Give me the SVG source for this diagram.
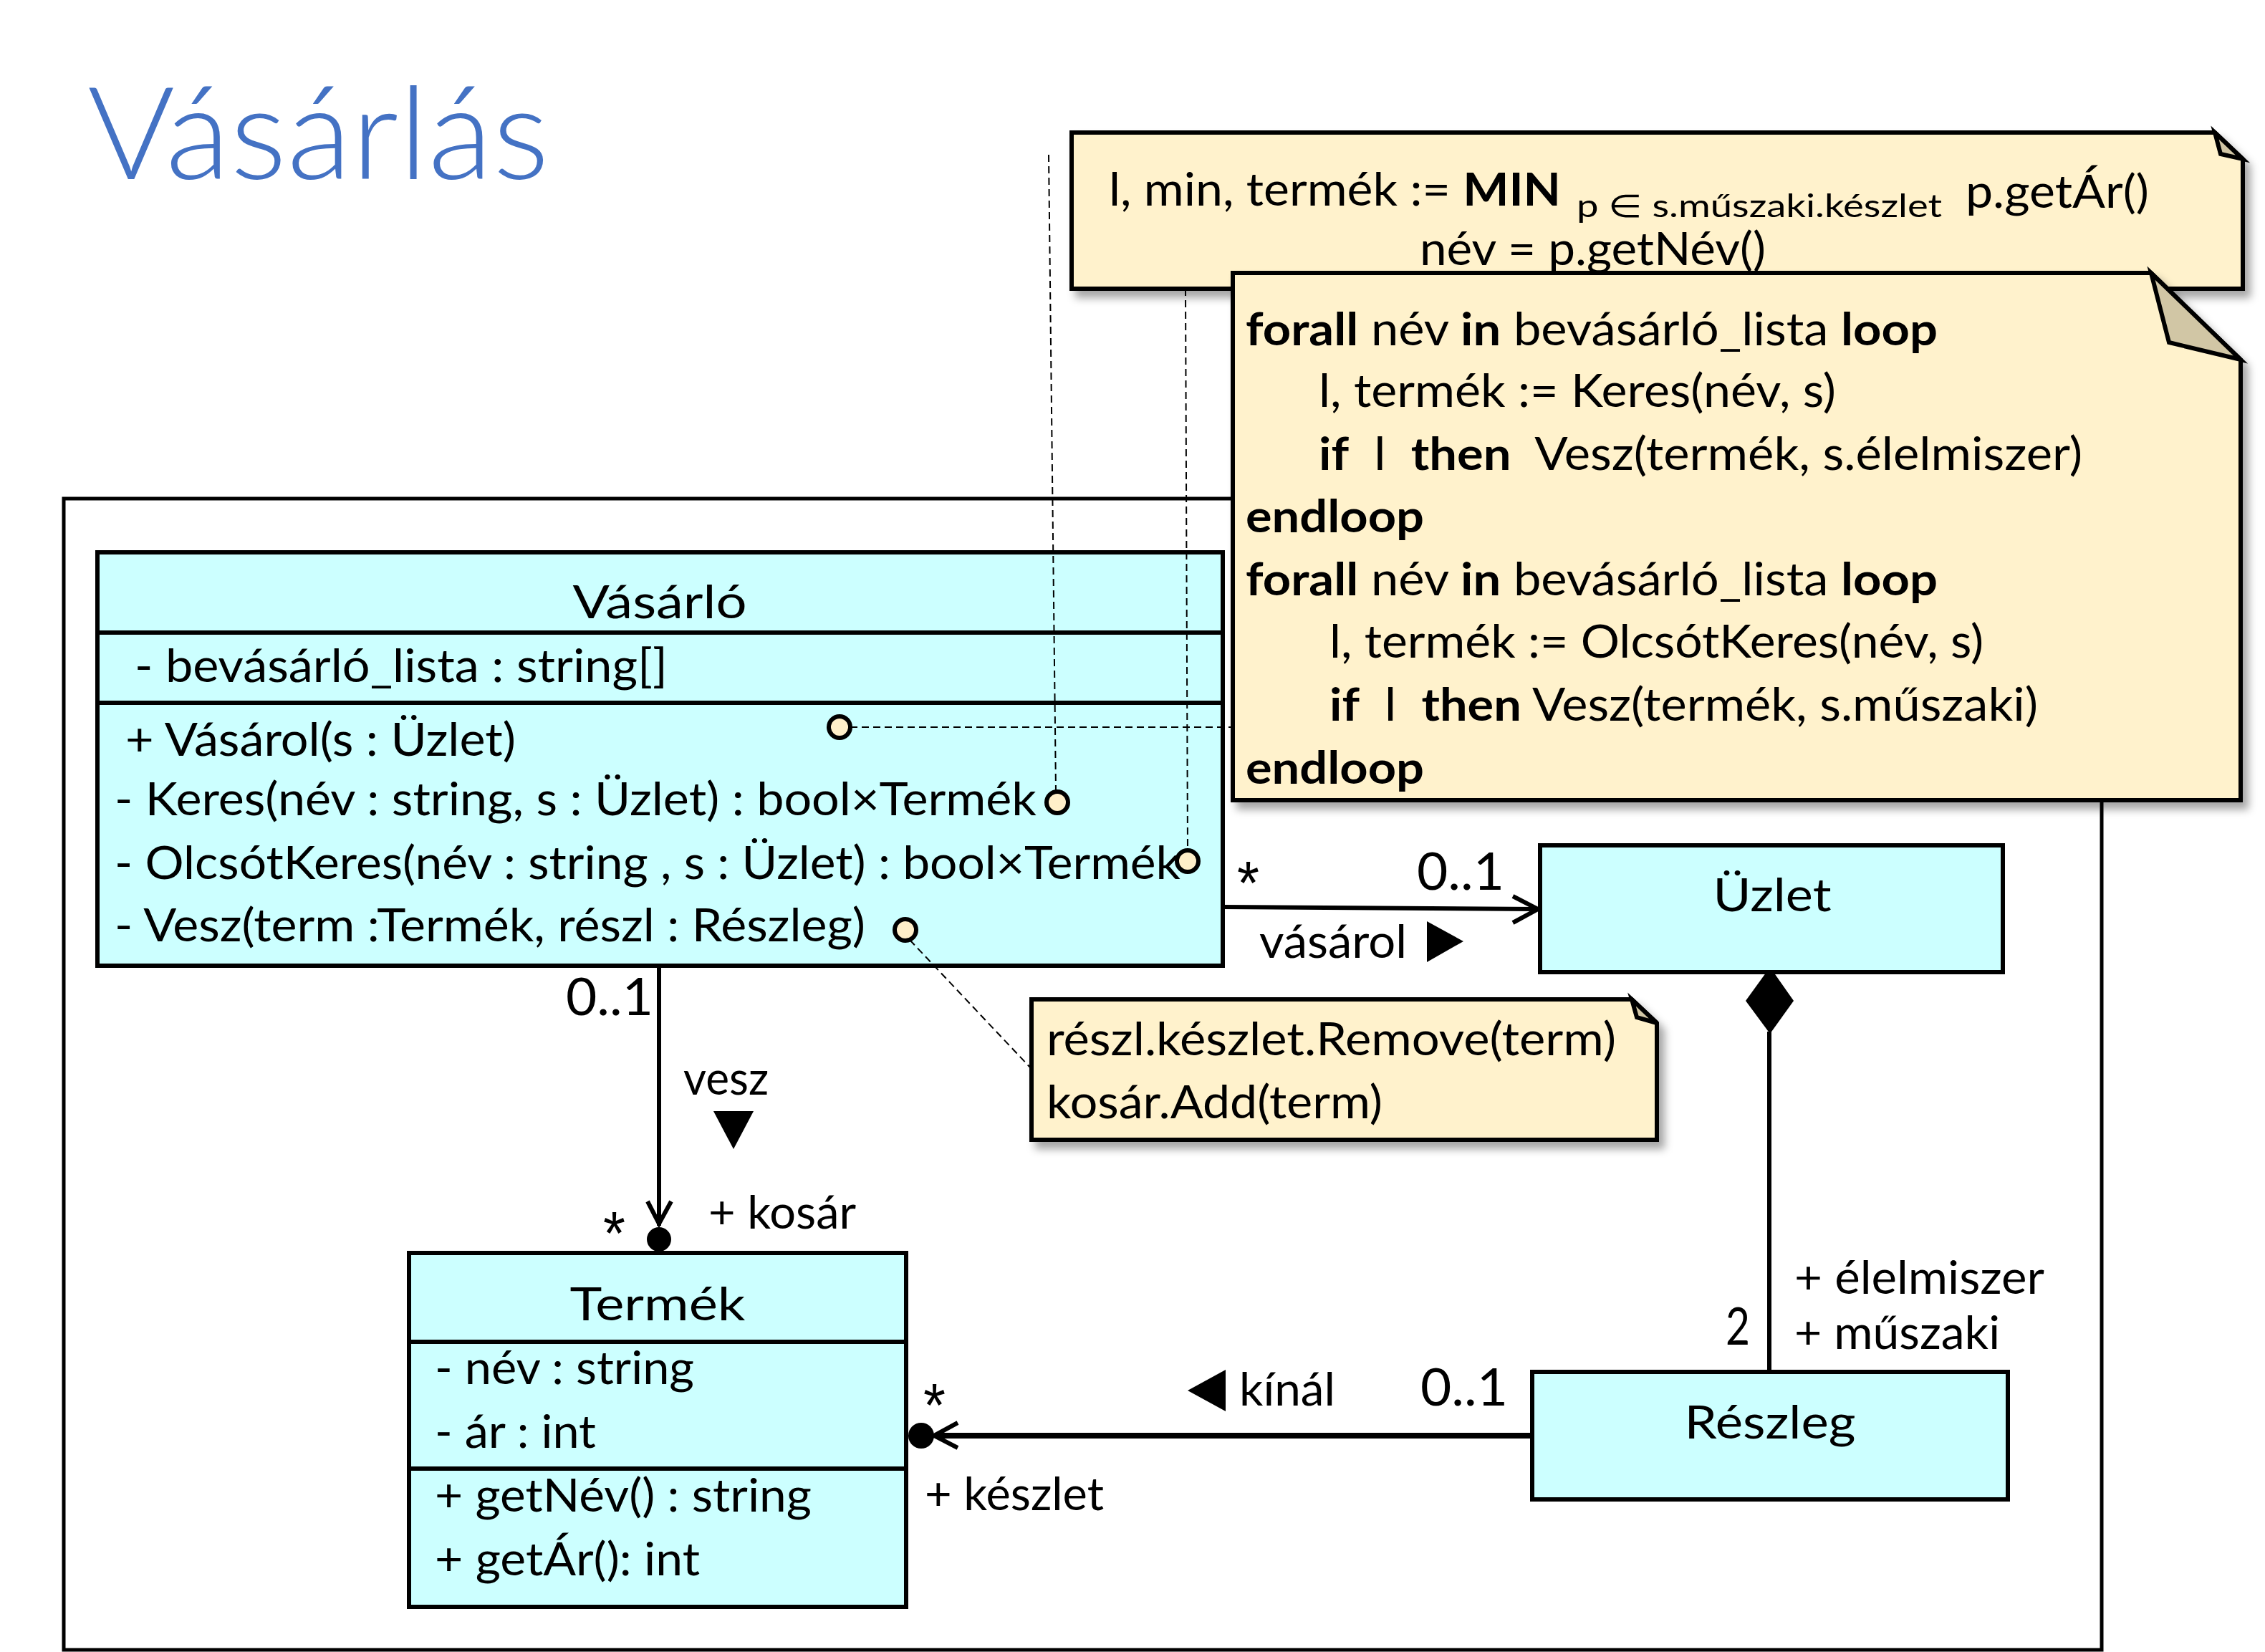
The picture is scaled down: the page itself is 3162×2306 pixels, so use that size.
<svg xmlns="http://www.w3.org/2000/svg" width="3162" height="2306" viewBox="0 0 3162 2306">
<style>
.cls{fill:#CCFFFF;stroke:#000;stroke-width:6}
.note{fill:#FFF2CC;stroke:#000;stroke-width:6;stroke-linejoin:miter}
.fold{fill:#D1C6A5;stroke:#000;stroke-width:6;stroke-linejoin:miter}
.t{font-family:Lato,"Liberation Sans",sans-serif;font-size:63px;fill:#000}
.m{font-size:72px}
.sub{font-size:44px}
.b{font-weight:bold}
.ast{font-family:"Liberation Sans",Arial,sans-serif;font-size:85px;fill:#000}
.dash{stroke:#000;stroke-width:2;stroke-dasharray:10 6;fill:none}
.ln{stroke:#000;stroke-width:6;fill:none}
.anc{fill:#FFEFC9;stroke:#000;stroke-width:6}
.title{font-family:Lato,"Liberation Sans",sans-serif;font-weight:300;font-size:180px;fill:#4472C4}
</style>
<defs>
<filter id="sh" x="-5%" y="-5%" width="115%" height="125%">
<feDropShadow dx="8" dy="10" stdDeviation="6" flood-color="#000" flood-opacity="0.35"/>
</filter>
</defs>
<rect width="3162" height="2306" fill="#fff"/>
<text id="title" class="title" x="122" y="250" textLength="645" lengthAdjust="spacingAndGlyphs">Vásárlás</text>
<rect id="frame" x="89" y="696" width="2845" height="1607" fill="none" stroke="#000" stroke-width="5"/>

<g id="connectors">
<line class="ln" x1="1707" y1="1266" x2="2146" y2="1269"/>
<polyline class="ln" points="2112,1251 2147,1269 2112,1288"/>
<line class="ln" x1="920" y1="1348" x2="920" y2="1711"/>
<polyline class="ln" points="904,1677 920,1708 937,1677"/>
<circle cx="920" cy="1730" r="17" fill="#000"/>
<line class="ln" style="stroke-width:8" x1="2139" y1="2004" x2="1305" y2="2004"/>
<polyline class="ln" points="1337,1986 1304,2004 1337,2021"/>
<circle cx="1286" cy="2004" r="18" fill="#000"/>
<line class="ln" x1="2470" y1="1440" x2="2470" y2="1915"/>
<polygon points="2471,1350 2437,1397 2471,1443 2504,1397" fill="#000"/>
<polygon points="1992,1286 1992,1343 2043,1314" fill="#000"/>
<polygon points="996,1551 1052,1551 1024,1604" fill="#000"/>
<polygon points="1658,1941 1711,1912 1711,1970" fill="#000"/>
<text class="ast" x="1727" y="1262" textLength="31" lengthAdjust="spacingAndGlyphs">*</text>
<text class="t m" x="1978" y="1242" textLength="122" lengthAdjust="spacingAndGlyphs">0..1</text>
<text class="t" x="1758" y="1337" textLength="206" lengthAdjust="spacingAndGlyphs">vásárol</text>
<text class="t m" x="790" y="1417" textLength="122" lengthAdjust="spacingAndGlyphs">0..1</text>
<text class="t" x="954" y="1528" textLength="119" lengthAdjust="spacingAndGlyphs">vesz</text>
<text class="ast" x="842" y="1751" textLength="31" lengthAdjust="spacingAndGlyphs">*</text>
<text class="t" x="989" y="1715" textLength="206" lengthAdjust="spacingAndGlyphs">+ kosár</text>
<text class="t" x="2505" y="1806" textLength="349" lengthAdjust="spacingAndGlyphs">+ élelmiszer</text>
<text class="t" x="2505" y="1883" textLength="287" lengthAdjust="spacingAndGlyphs">+ műszaki</text>
<text class="t m" x="2409" y="1877" textLength="34" lengthAdjust="spacingAndGlyphs">2</text>
<text class="t m" x="1983" y="1962" textLength="122" lengthAdjust="spacingAndGlyphs">0..1</text>
<text class="t" x="1730" y="1962" textLength="134" lengthAdjust="spacingAndGlyphs">kínál</text>
<text class="ast" x="1289" y="1991" textLength="31" lengthAdjust="spacingAndGlyphs">*</text>
<text class="t" x="1291" y="2108" textLength="250" lengthAdjust="spacingAndGlyphs">+ készlet</text>
</g>

<g id="vasarlo">
<rect class="cls" x="136" y="771" width="1571" height="577"/>
<line class="ln" x1="136" y1="883" x2="1707" y2="883"/>
<line class="ln" x1="136" y1="981" x2="1707" y2="981"/>
<text class="t" x="921" y="863" text-anchor="middle" textLength="243" lengthAdjust="spacingAndGlyphs">Vásárló</text>
<text class="t" x="188" y="952" textLength="744" lengthAdjust="spacingAndGlyphs">- bevásárló_lista : string[]</text>
<text class="t" x="175" y="1055" textLength="545" lengthAdjust="spacingAndGlyphs">+ Vásárol(s : Üzlet)</text>
<text class="t" x="160" y="1138" textLength="1287" lengthAdjust="spacingAndGlyphs">- Keres(név : string, s : Üzlet) : bool×Termék</text>
<text class="t" x="160" y="1227" textLength="1488" lengthAdjust="spacingAndGlyphs">- OlcsótKeres(név : string , s : Üzlet) : bool×Termék</text>
<text class="t" x="160" y="1314" textLength="1048" lengthAdjust="spacingAndGlyphs">- Vesz(term :Termék, részl : Részleg)</text>
</g>

<g id="termek">
<rect class="cls" x="571" y="1749" width="694" height="494"/>
<line class="ln" x1="571" y1="1873" x2="1265" y2="1873"/>
<line class="ln" x1="571" y1="2050" x2="1265" y2="2050"/>
<text class="t" x="918" y="1843" text-anchor="middle" textLength="245" lengthAdjust="spacingAndGlyphs">Termék</text>
<text class="t" x="607" y="1932" textLength="362" lengthAdjust="spacingAndGlyphs">- név : string</text>
<text class="t" x="607" y="2021" textLength="225" lengthAdjust="spacingAndGlyphs">- ár : int</text>
<text class="t" x="607" y="2110" textLength="526" lengthAdjust="spacingAndGlyphs">+ getNév() : string</text>
<text class="t" x="607" y="2199" textLength="370" lengthAdjust="spacingAndGlyphs">+ getÁr(): int</text>
</g>

<g id="uzlet">
<rect class="cls" x="2150" y="1180" width="646" height="177"/>
<text class="t" x="2474" y="1272" text-anchor="middle" textLength="165" lengthAdjust="spacingAndGlyphs">Üzlet</text>
</g>

<g id="reszleg">
<rect class="cls" x="2139" y="1915" width="664" height="178"/>
<text class="t" x="2471" y="2008" text-anchor="middle" textLength="239" lengthAdjust="spacingAndGlyphs">Részleg</text>
</g>

<g id="anchors">
<line class="dash" x1="1464" y1="216" x2="1474" y2="1105"/>
<line class="dash" x1="1655" y1="403" x2="1658" y2="1187"/>
<line class="dash" x1="1187" y1="1015" x2="1721" y2="1015"/>
<line class="dash" x1="1270" y1="1312" x2="1440" y2="1492"/>
<circle class="anc" cx="1172" cy="1015" r="15"/>
<circle class="anc" cx="1476" cy="1120" r="15"/>
<circle class="anc" cx="1658" cy="1202" r="15"/>
<circle class="anc" cx="1264" cy="1298" r="15"/>
</g>

<g id="note-min">
<polygon class="note" filter="url(#sh)" points="1496,185 3092,185 3131,222 3131,403 1496,403"/>
<polygon class="fold" points="3092,185 3100,215 3131,222"/>
<text class="t" x="1548" y="287" textLength="631" lengthAdjust="spacingAndGlyphs">l, min, termék := <tspan class="b">MIN</tspan></text>
<text class="t sub" x="2201" y="303" textLength="510" lengthAdjust="spacingAndGlyphs">p ∈ s.műszaki.készlet</text>
<text class="t" x="2744" y="290" textLength="256" lengthAdjust="spacingAndGlyphs">p.getÁr()</text>
<text class="t" x="1982" y="370" textLength="483" lengthAdjust="spacingAndGlyphs">név = p.getNév()</text>
</g>

<g id="note-vasarol">
<polygon class="note" filter="url(#sh)" points="1721,381 3003,381 3128,502 3128,1117 1721,1117"/>
<polygon class="fold" points="3003,381 3028,478 3128,502"/>
<text class="t" x="1739" y="482" textLength="966" lengthAdjust="spacingAndGlyphs"><tspan class="b">forall</tspan> név <tspan class="b">in</tspan> bevásárló_lista <tspan class="b">loop</tspan></text>
<text class="t" x="1841" y="568" textLength="722" lengthAdjust="spacingAndGlyphs">l, termék := Keres(név, s)</text>
<text class="t" x="1841" y="656" textLength="1066" lengthAdjust="spacingAndGlyphs"><tspan class="b">if</tspan>&#160; l&#160; <tspan class="b">then</tspan>&#160; Vesz(termék, s.élelmiszer)</text>
<text class="t b" x="1739" y="743" textLength="249" lengthAdjust="spacingAndGlyphs">endloop</text>
<text class="t" x="1739" y="831" textLength="966" lengthAdjust="spacingAndGlyphs"><tspan class="b">forall</tspan> név <tspan class="b">in</tspan> bevásárló_lista <tspan class="b">loop</tspan></text>
<text class="t" x="1856" y="918" textLength="913" lengthAdjust="spacingAndGlyphs">l, termék := OlcsótKeres(név, s)</text>
<text class="t" x="1856" y="1006" textLength="989" lengthAdjust="spacingAndGlyphs"><tspan class="b">if</tspan>&#160; l&#160; <tspan class="b">then</tspan> Vesz(termék, s.műszaki)</text>
<text class="t b" x="1739" y="1094" textLength="249" lengthAdjust="spacingAndGlyphs">endloop</text>
</g>

<g id="note-vesz">
<polygon class="note" filter="url(#sh)" points="1440,1395 2278,1395 2313,1428 2313,1591 1440,1591"/>
<polygon class="fold" points="2278,1395 2285,1420 2313,1428"/>
<text class="t" x="1461" y="1473" textLength="795" lengthAdjust="spacingAndGlyphs">részl.készlet.Remove(term)</text>
<text class="t" x="1461" y="1561" textLength="469" lengthAdjust="spacingAndGlyphs">kosár.Add(term)</text>
</g>
</svg>
